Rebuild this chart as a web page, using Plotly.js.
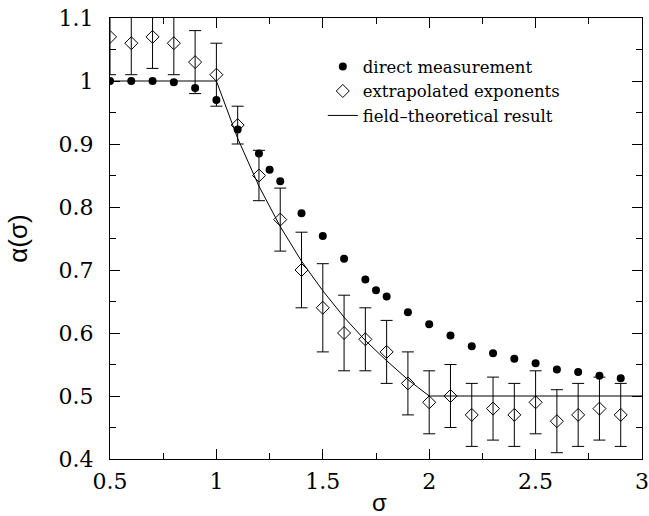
<!DOCTYPE html>
<html>
<head>
<meta charset="utf-8">
<script src="https://cdn.plot.ly/plotly-3.0.1.min.js"></script>
<style>html,body{margin:0;padding:0;background:#fff;}#chart{width:649px;height:516px;}</style>
</head>
<body>
<div id="chart"></div>
<script>
// direct measurement
const sigmaDirect = [0.5,0.6,0.7,0.8,0.9,1.0,1.1,1.2,1.25,1.3,1.4,1.5,1.6,1.7,1.75,1.8,1.9,2.0,2.1,2.2,2.3,2.4,2.5,2.6,2.7,2.8,2.9];
const alphaDirect = [1.0,1.0,1.0,0.998,0.989,0.970,0.923,0.885,0.859,0.841,0.790,0.754,0.718,0.685,0.668,0.658,0.633,0.614,0.596,0.579,0.568,0.559,0.552,0.542,0.538,0.532,0.528];
// extrapolated exponents
const sigmaExtrap = [0.5,0.6,0.7,0.8,0.9,1.0,1.1,1.2,1.3,1.4,1.5,1.6,1.7,1.8,1.9,2.0,2.1,2.2,2.3,2.4,2.5,2.6,2.7,2.8,2.9];
const alphaExtrap = [1.07,1.06,1.07,1.06,1.03,1.01,0.93,0.85,0.78,0.70,0.64,0.60,0.59,0.57,0.52,0.49,0.50,0.47,0.48,0.47,0.49,0.46,0.47,0.48,0.47];
const errExtrap   = [0.06,0.05,0.05,0.05,0.05,0.05,0.03,0.04,0.05,0.06,0.07,0.06,0.05,0.05,0.05,0.05,0.05,0.05,0.05,0.05,0.05,0.05,0.05,0.05,0.05];
// field-theoretical result
const sigmaTheory = [0.5,1.0,1.1,1.2,1.3,1.4,1.5,1.6,1.7,1.8,1.9,2.0,3.0];
const alphaTheory = [1.0,1.0,0.909,0.833,0.769,0.714,0.667,0.625,0.588,0.556,0.526,0.5,0.5];
// tick labels
const xTickVals = [0.5,1,1.5,2,2.5,3];
const xTickText = ['0.5','1','1.5','2','2.5','3'];
const yTickVals = [0.4,0.5,0.6,0.7,0.8,0.9,1,1.1];
const yTickText = ['0.4','0.5','0.6','0.7','0.8','0.9','1','1.1'];

const serif = 'DejaVu Serif';
const sans = 'Liberation Sans';

const traces = [
  {x: sigmaDirect, y: alphaDirect, type:'scatter', mode:'markers', name:'direct measurement',
   marker:{symbol:'circle', size:8, color:'#000'}},
  {x: sigmaExtrap, y: alphaExtrap, type:'scatter', mode:'markers', name:'extrapolated exponents',
   marker:{symbol:'diamond-open', size:10, color:'#000', line:{width:1}},
   error_y:{type:'data', array: errExtrap, visible:true, color:'#000', thickness:1, width:6}},
  {x: sigmaTheory, y: alphaTheory, type:'scatter', mode:'lines', name:'field\u2013theoretical result',
   line:{color:'#000', width:1}}
];

const axisCommon = {
  showline:true, linecolor:'#000', linewidth:1, mirror:'ticks',
  ticks:'inside', ticklen:10, tickwidth:1, tickcolor:'#000',
  showgrid:false, zeroline:false, ticklabeloverflow:'allow',
  tickfont:{family: serif, size:22, color:'#000'}
};

const layout = {
  width:649, height:516,
  font:{family: serif, color:'#000'},
  margin:{l:110, r:7, t:17.5, b:57, pad:0},
  paper_bgcolor:'#fff', plot_bgcolor:'#fff',
  showlegend:true,
  legend:{x:0.40, y:0.929, xanchor:'left', yanchor:'top', bgcolor:'rgba(0,0,0,0)',
          font:{family: serif, size:16.5, color:'#000'}, itemwidth:30},
  xaxis: Object.assign({}, axisCommon, {
    range:[0.5,3], tickvals:xTickVals, ticktext:xTickText, ticklabelstandoff:3,
    minor:{ticks:'inside', ticklen:6, tickcolor:'#000', dtick:0.25, tick0:0.5}
  }),
  yaxis: Object.assign({}, axisCommon, {
    range:[0.4,1.1], tickvals:yTickVals, ticktext:yTickText, ticklabelstandoff:11,
    minor:{ticks:'inside', ticklen:6, tickcolor:'#000', dtick:0.05, tick0:0.4},
    title:{text:'\u03b1(\u03c3)', font:{family: sans, size:26, color:'#000'}, standoff:23}
  }),
  annotations:[
    {text:'\u03c3', xref:'paper', yref:'paper', x:0.5, y:0, xshift:3, yshift:-43,
     xanchor:'center', yanchor:'middle', showarrow:false,
     font:{family: sans, size:24, color:'#000'}}
  ]
};

Plotly.newPlot('chart', traces, layout, {displayModeBar:false, staticPlot:true});
</script>
</body>
</html>
